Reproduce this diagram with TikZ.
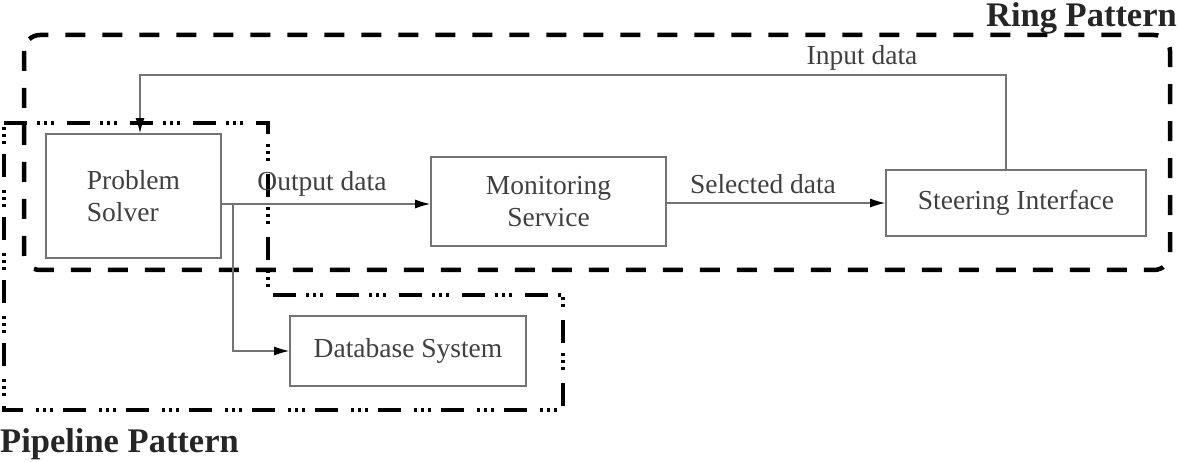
\documentclass[tikz,border=0pt]{standalone}
\usepackage{fontspec}
\setmainfont{Liberation Serif}
\usetikzlibrary{arrows.meta,calc}
\begin{document}
\begin{tikzpicture}[x=1pt,y=-1pt,
  box/.style={draw=black!55,line width=1.6pt,fill=white,inner sep=0pt,
    font=\fontsize{27.5}{32}\selectfont,text=black!75},
  lbl/.style={font=\fontsize{27.5}{32}\selectfont,text=black!75,inner sep=0pt},
  title/.style={font=\fontsize{34.5}{38}\selectfont\bfseries,text=black!85,inner sep=0pt},
  conn/.style={draw=black!55,line width=1.3pt,-{Latex[length=15pt,width=9pt,black]}},
  ring/.style={draw=black,line width=4.5pt,dash pattern=on 20pt off 17pt,rounded corners=16pt},
  pipe/.style={draw=black,line width=4.5pt,dash pattern=on 23pt off 10pt on 3pt off 4pt on 3pt off 4pt on 3pt off 13pt}]
\useasboundingbox (0,0) rectangle (1179,462);
% patterns
\draw[ring] (24,35) rectangle (1170,270);
\draw[pipe] (4,123) -- (268,123) -- (268,295) -- (563,295) -- (563,410) -- (4,410) -- cycle;
% boxes
\node[box,minimum width=175pt,minimum height=124pt,align=left] (ps) at (133.5,196) {Problem\\Solver};
\node[box,minimum width=235pt,minimum height=89pt,align=center] (ms) at (548.5,201.5) {Monitoring\\Service};
\node[box,minimum width=260pt,minimum height=66pt] (si) at (1016,203) {Steering Interface};
\node[box,minimum width=236pt,minimum height=70pt] (db) at (408,351) {Database System};
% connectors
\coordinate (j) at (233,204);
\coordinate (top) at (1006,75);
\coordinate (topl) at (140,75);
\draw[draw=black!55,line width=1.3pt] (ps.east |- j) -- (j);
\draw[conn] (j) -- (ms.west |- j);
\draw[conn] (j) -- (j |- db) -- (db.west);
\draw[conn] (ms.east |- si) -- (si.west);
\draw[conn] (si.north -| top) -- (top) -- (topl) -- (ps.north -| topl);
% labels
\node[lbl] (l1) at (322,184) {Output data};
\node[lbl] (l2) at (763,184) {Selected data};
\node[lbl] (l3) at (862,58) {Input data};
\node[title,anchor=north east] (t1) at (1177,2) {Ring Pattern};
\node[title,anchor=south west] (t2) at (0,460) {Pipeline Pattern};
\end{tikzpicture}
\end{document}
